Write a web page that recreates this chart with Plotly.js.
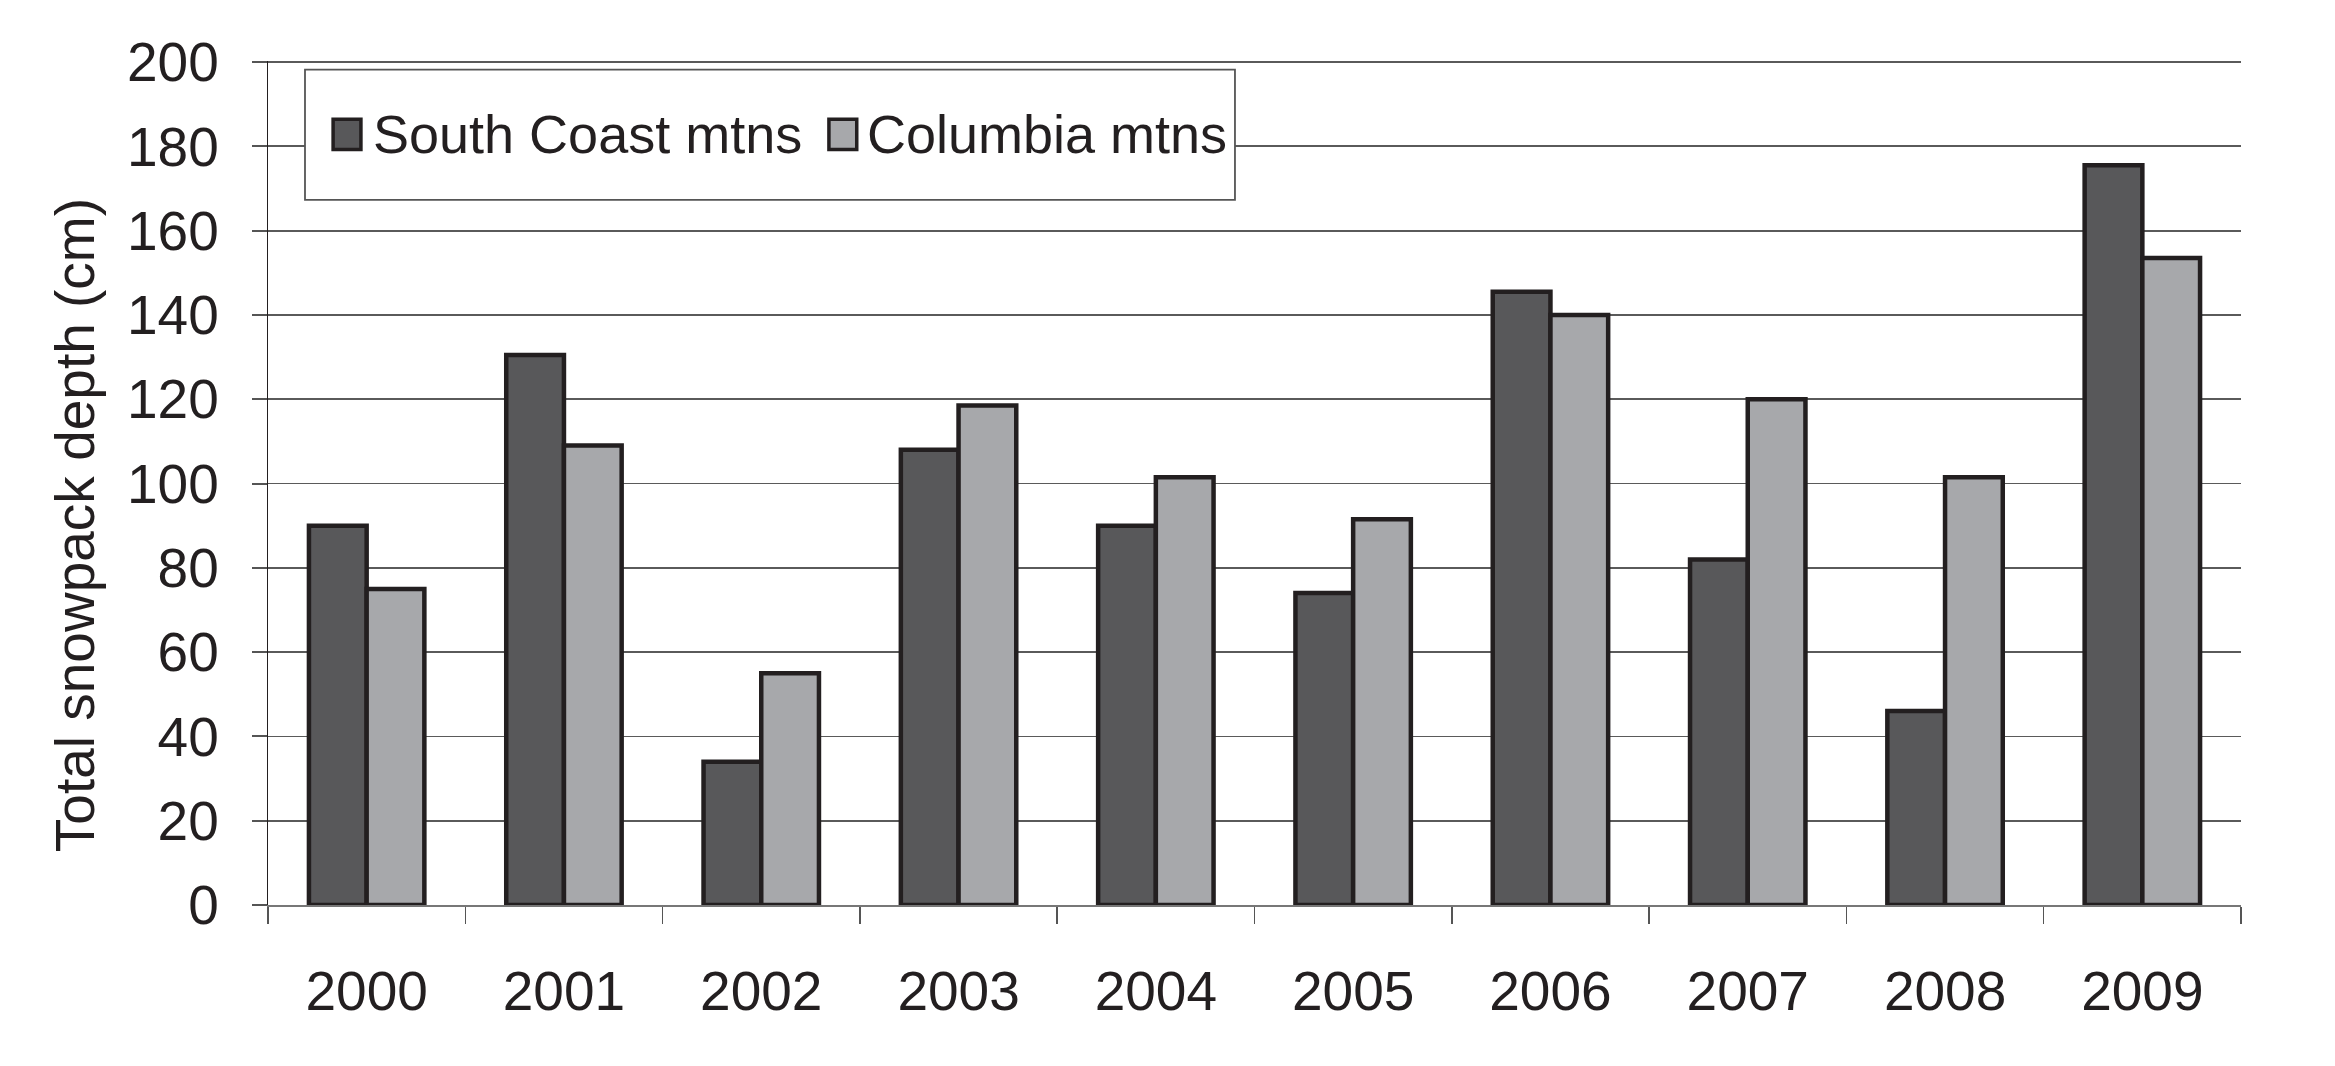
<!DOCTYPE html>
<html>
<head>
<meta charset="utf-8">
<script src="https://cdn.plot.ly/plotly-3.0.1.min.js"></script>
<style>html,body{margin:0;padding:0;background:#fff;}#chart{width:2335px;height:1066px;}</style>
</head>
<body>
<div id="chart"></div>
<script>
const years = ["2000","2001","2002","2003","2004","2005","2006","2007","2008","2009"];
const southCoast = [90, 130.5, 34, 108, 90, 74, 145.5, 82, 46, 175.5];
const columbia = [75, 109, 55, 118.5, 101.5, 91.5, 140, 120, 101.5, 153.5];
const seriesNames = ["South Coast mtns", "Columbia mtns"];
const yTitle = "Total snowpack depth (cm)";

const ink = "#231f20";
const dark = "#58585a";
const light = "#a7a8ab";
const family = "Liberation Sans, Arial, sans-serif";
const tickFont = {family: family, size: 55, color: ink};
const legFont = {family: family, size: 54, color: ink};

const traces = [
  {type: "bar", x: years, y: southCoast, name: seriesNames[0],
   marker: {color: dark, line: {color: ink, width: 4.5}}, showlegend: false},
  {type: "bar", x: years, y: columbia, name: seriesNames[1],
   marker: {color: light, line: {color: ink, width: 4.5}}, showlegend: false}
];

const layout = {
  width: 2335, height: 1066,
  margin: {l: 268, r: 94, t: 61, b: 161, autoexpand: false},
  paper_bgcolor: "#fff", plot_bgcolor: "#fff",
  font: tickFont,
  barmode: "group", bargap: 0.415, bargroupgap: 0,
  showlegend: false,
  xaxis: {
    type: "category", tickson: "boundaries", ticks: "outside", ticklen: 17,
    tickwidth: 1.5, tickcolor: "#555", showline: true, linecolor: "#777", linewidth: 2,
    showgrid: false, tickfont: tickFont, ticklabelstandoff: 37, automargin: false
  },
  yaxis: {
    range: [0, 200.25], dtick: 20, tick0: 0, ticks: "outside", ticklen: 15,
    tickwidth: 2, tickcolor: "#555", showline: true, linecolor: ink, linewidth: 1.2,
    showgrid: true, gridcolor: "#5a5a5a", gridwidth: 1.8, zeroline: false,
    tickfont: tickFont, ticklabelstandoff: 22, automargin: false
  },
  shapes: [
    {type: "rect", xref: "paper", yref: "paper", x0: 0.01875, x1: 0.4901, y0: 0.8355, y1: 0.9897,
     line: {color: "#555", width: 1.8}, fillcolor: "#fff", layer: "above"},
    {type: "rect", xref: "paper", yref: "paper", x0: 0.0330, x1: 0.0471, y0: 0.8950, y1: 0.9310,
     line: {color: ink, width: 3.5}, fillcolor: dark, layer: "above"},
    {type: "rect", xref: "paper", yref: "paper", x0: 0.2843, x1: 0.2984, y0: 0.8950, y1: 0.9310,
     line: {color: ink, width: 3.5}, fillcolor: light, layer: "above"}
  ],
  annotations: [
    {xref: "paper", yref: "paper", x: 0.0520, y: 0.913, xanchor: "left", yanchor: "middle",
     text: seriesNames[0], showarrow: false, font: legFont},
    {xref: "paper", yref: "paper", x: 0.3025, y: 0.913, xanchor: "left", yanchor: "middle",
     text: seriesNames[1], showarrow: false, font: legFont},
    {xref: "paper", yref: "paper", x: -0.098, y: 0.4496, xanchor: "center", yanchor: "middle",
     text: yTitle, textangle: -90, showarrow: false, font: tickFont}
  ]
};

Plotly.newPlot("chart", traces, layout, {displayModeBar: false, staticPlot: true});
</script>
</body>
</html>
